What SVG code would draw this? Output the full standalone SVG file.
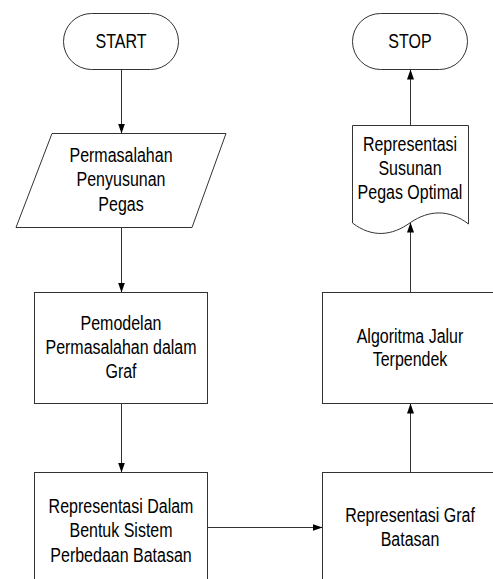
<svg xmlns="http://www.w3.org/2000/svg" width="493" height="579" viewBox="0 0 493 579">
<style>
.s{fill:#fff;stroke:#333;stroke-width:1}
.c{fill:none;stroke:#333;stroke-width:1}
text{font-family:"Liberation Sans",Arial,sans-serif;font-size:16px;fill:#000;text-anchor:middle}
</style>
<defs>
<marker id="ah" markerUnits="userSpaceOnUse" markerWidth="10" markerHeight="8" refX="10" refY="3.5" orient="auto">
<path d="M0,0 L10,3.5 L0,7 z" fill="#000"/>
</marker>
</defs>
<rect width="493" height="579" fill="#fff"/>
<g id="connectors">
<line class="c" x1="121.5" y1="69.5" x2="121.5" y2="133.5" marker-end="url(#ah)"/>
<line class="c" x1="121.5" y1="227.5" x2="121.5" y2="292.5" marker-end="url(#ah)"/>
<line class="c" x1="121.5" y1="403.5" x2="121.5" y2="472.5" marker-end="url(#ah)"/>
<line class="c" x1="207.5" y1="527.5" x2="322.5" y2="527.5" marker-end="url(#ah)"/>
<line class="c" x1="410.5" y1="472.5" x2="410.5" y2="403.5" marker-end="url(#ah)"/>
<line class="c" x1="410.5" y1="292.5" x2="410.5" y2="222.5" marker-end="url(#ah)"/>
<line class="c" x1="410.5" y1="125.5" x2="410.5" y2="69.5" marker-end="url(#ah)"/>
</g>
<g id="start">
<rect class="s" x="63.5" y="13.5" width="115" height="56" rx="28" ry="28"/>
<text transform="translate(121,47.7) scale(1,1.25)">START</text>
</g>
<g id="stop">
<rect class="s" x="352.5" y="13.5" width="115" height="56" rx="28" ry="28"/>
<text transform="translate(410,47.7) scale(1,1.25)">STOP</text>
</g>
<g id="input">
<polygon class="s" points="52,133.5 226,133.5 192,227.5 16,227.5"/>
<text transform="translate(121,162.3) scale(1,1.22)"><tspan x="0" y="0">Permasalahan</tspan><tspan x="0" dy="19.8">Penyusunan</tspan><tspan x="0" dy="19.8">Pegas</tspan></text>
</g>
<g id="model">
<rect class="s" x="34.5" y="292.5" width="173" height="111"/>
<text transform="translate(121,329.5) scale(1,1.22)"><tspan x="0" y="0">Pemodelan</tspan><tspan x="0" dy="19.8">Permasalahan dalam</tspan><tspan x="0" dy="19.8">Graf</tspan></text>
</g>
<g id="sistem">
<rect class="s" x="34.5" y="472.5" width="173" height="120"/>
<text transform="translate(121,513.3) scale(1,1.22)"><tspan x="0" y="0">Representasi Dalam</tspan><tspan x="0" dy="19.8">Bentuk Sistem</tspan><tspan x="0" dy="19.8">Perbedaan Batasan</tspan></text>
</g>
<g id="grafbatasan">
<rect class="s" x="322.5" y="472.5" width="180" height="120"/>
<text transform="translate(410,521.7) scale(1,1.22)"><tspan x="0" y="0">Representasi Graf</tspan><tspan x="0" dy="20.3">Batasan</tspan></text>
</g>
<g id="algoritma">
<rect class="s" x="322.5" y="292.5" width="180" height="111"/>
<text transform="translate(410,342.7) scale(1,1.22)"><tspan x="0" y="0">Algoritma Jalur</tspan><tspan x="0" dy="19.4">Terpendek</tspan></text>
</g>
<g id="output">
<path class="s" d="M352.5,125.5 L468.5,125.5 L468.5,224 C449,209 429,210 410.5,222.5 C392,236 372,238 352.5,223 Z"/>
<text transform="translate(410,150.7) scale(1,1.22)"><tspan x="0" y="0">Representasi</tspan><tspan x="0" dy="19.8">Susunan</tspan><tspan x="0" dy="19.8">Pegas Optimal</tspan></text>
</g>
</svg>
